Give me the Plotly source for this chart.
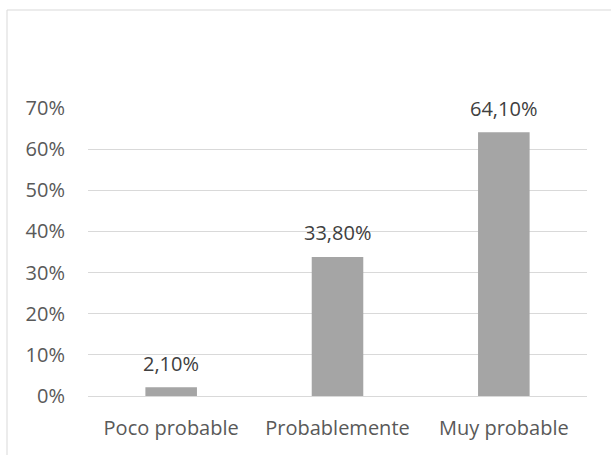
import plotly.graph_objects as go

categories = ["Poco probable", "Probablemente", "Muy probable"]
values = [0.021, 0.338, 0.641]
value_labels = ["2,10%", "33,80%", "64,10%"]
tick_vals = [0, 0.1, 0.2, 0.3, 0.4, 0.5, 0.6, 0.7]
tick_text = ["0%", "10%", "20%", "30%", "40%", "50%", "60%", "70%"]

FONT = "Open Sans"
FONT_SIZE = 20
BAR_COLOR = "#A5A5A5"
GRID_COLOR = "#D9D9D9"

fig = go.Figure(
    go.Bar(
        x=categories,
        y=values,
        marker=dict(color=BAR_COLOR, line=dict(width=0)),
        hoverinfo="skip",
    )
)

# value labels above each bar
for cat, val, lab in zip(categories, values, value_labels):
    fig.add_annotation(
        x=cat, y=val, text=lab, showarrow=False,
        yanchor="middle", yshift=24,
        font=dict(family=FONT, size=FONT_SIZE, color="#404040"),
    )

# outer chart border
fig.add_shape(
    type="rect", xref="paper", yref="paper",
    x0=(7 - 88) / 499, x1=(640 - 88) / 499,
    y0=(396 - 480) / 288, y1=(396 - 10) / 288,
    line=dict(color=GRID_COLOR, width=1), fillcolor="rgba(0,0,0,0)",
    layer="below",
)

fig.update_layout(
    width=611, height=455,
    margin=dict(l=88, r=24, t=108, b=59),
    paper_bgcolor="white", plot_bgcolor="white",
    bargap=0.69,
    showlegend=False,
    font=dict(family=FONT, size=FONT_SIZE, color="#595959"),
    xaxis=dict(
        showgrid=False, zeroline=False,
        showline=True, linecolor=GRID_COLOR, linewidth=1,
        ticks="", ticklabelstandoff=14,
        tickfont=dict(family=FONT, size=FONT_SIZE, color="#595959"),
        fixedrange=True,
    ),
    yaxis=dict(
        range=[0, 0.7],
        tickvals=tick_vals, ticktext=tick_text,
        showgrid=True, gridcolor=GRID_COLOR, gridwidth=1,
        zeroline=False, showline=False,
        ticks="", ticklabelstandoff=22,
        tickfont=dict(family=FONT, size=FONT_SIZE, color="#595959"),
        fixedrange=True,
    ),
)

fig.write_html("out.html", config={"displayModeBar": False})
